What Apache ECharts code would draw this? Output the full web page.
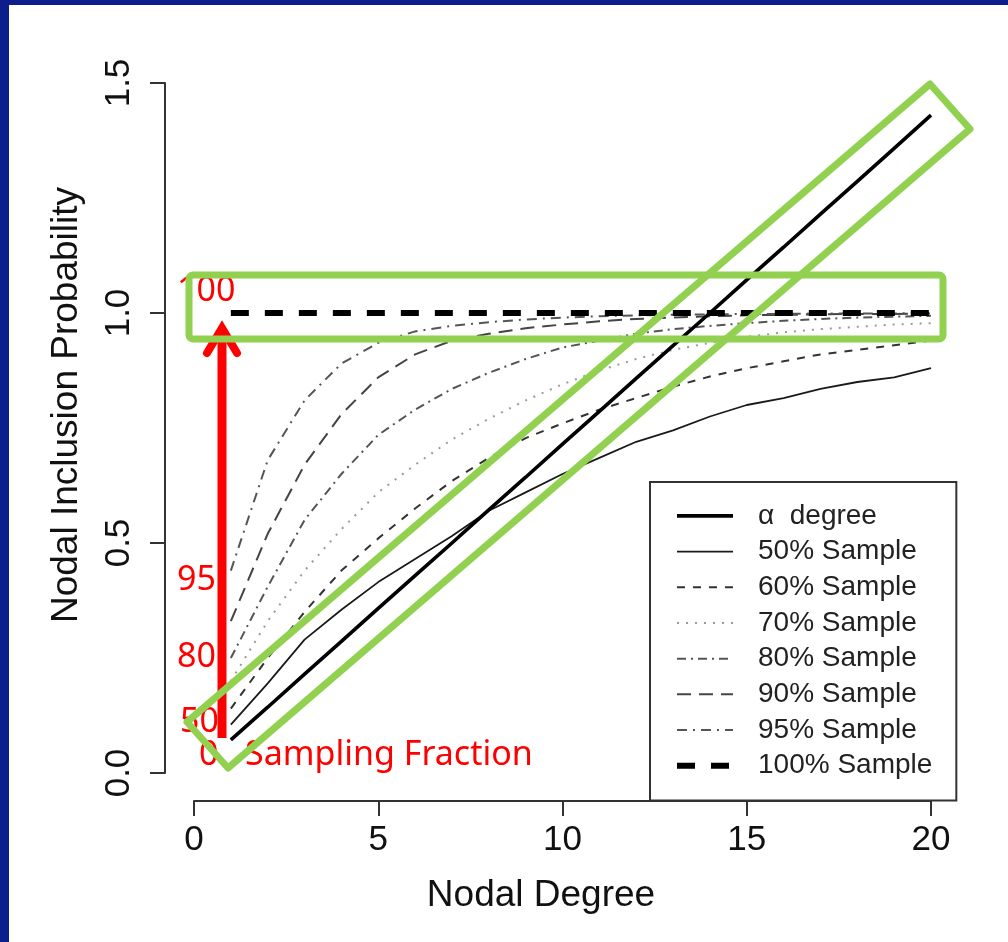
<!DOCTYPE html>
<html>
<head>
<meta charset="utf-8">
<script src="https://cdn.jsdelivr.net/npm/echarts@6/dist/echarts.min.js"></script>
<style>
  html, body { margin: 0; padding: 0; background: #0b1e8c; }
  #paper { position: absolute; left: 9px; top: 5px; width: 999px; height: 937px; background: #fff; }
  #main { position: absolute; left: 0; top: 0; width: 1008px; height: 942px; }
</style>
</head>
<body>
<div id="paper"></div>
<div id="main"></div>
<script>
// nodal degree (x)
var degree = [1, 2, 3, 4, 5, 6, 7, 8, 9, 10, 11, 12, 13, 14, 15, 16, 17, 18, 19, 20];

// inclusion probability
var alphaDegree = [0.072, 0.143, 0.215, 0.286, 0.358, 0.429, 0.50, 0.572, 0.643, 0.715, 0.786, 0.858, 0.929, 1.00, 1.072, 1.143, 1.215, 1.286, 1.358, 1.43];
var sample50  = [0.105, 0.195, 0.29, 0.355, 0.415, 0.465, 0.515, 0.57, 0.61, 0.65, 0.685, 0.72, 0.745, 0.775, 0.80, 0.815, 0.835, 0.85, 0.86, 0.88];
var sample60  = [0.14, 0.25, 0.35, 0.44, 0.51, 0.575, 0.635, 0.685, 0.728, 0.76, 0.79, 0.815, 0.84, 0.862, 0.88, 0.895, 0.91, 0.92, 0.93, 0.94];
var sample70  = [0.20, 0.33, 0.44, 0.53, 0.61, 0.67, 0.725, 0.77, 0.81, 0.845, 0.875, 0.90, 0.92, 0.935, 0.948, 0.958, 0.965, 0.97, 0.975, 0.978];
var sample80  = [0.25, 0.405, 0.55, 0.65, 0.735, 0.79, 0.835, 0.87, 0.90, 0.925, 0.94, 0.955, 0.965, 0.972, 0.978, 0.983, 0.987, 0.99, 0.992, 0.994];
var sample90  = [0.33, 0.52, 0.67, 0.78, 0.86, 0.91, 0.94, 0.955, 0.967, 0.975, 0.982, 0.987, 0.99, 0.993, 0.995, 0.996, 0.997, 0.998, 0.998, 0.999];
var sample95  = [0.44, 0.68, 0.81, 0.89, 0.935, 0.96, 0.972, 0.98, 0.986, 0.99, 0.993, 0.995, 0.996, 0.997, 0.998, 0.998, 0.999, 0.999, 0.999, 1.0];
var sample100 = [1, 1, 1, 1, 1, 1, 1, 1, 1, 1, 1, 1, 1, 1, 1, 1, 1, 1, 1, 1];

var xTicks = [0, 5, 10, 15, 20];
var yTicks = [0, 0.5, 1.0, 1.5];

function pairs(vals) {
  var out = [];
  for (var i = 0; i < degree.length; i++) out.push([degree[i], vals[i]]);
  return out;
}

function mkLine(name, vals, color, width, dash) {
  return {
    name: name,
    type: 'line',
    data: pairs(vals),
    symbol: 'none',
    lineStyle: { color: color, width: width, type: dash, cap: 'butt' },
    itemStyle: { color: color },
    z: 3
  };
}

var font = 'Liberation Sans, Arial, sans-serif';
var redFont = 'Noto Sans, sans-serif';
var green = '#92d050';
var red = '#ff0000';

function redText(txt, x, y) {
  return {
    type: 'text', z: 90,
    style: { text: txt, x: x, y: y, fill: red, font: '34px ' + redFont, textVerticalAlign: 'middle' }
  };
}

var option = {
  animation: false,
  backgroundColor: 'transparent',
  grid: { left: 194, right: 77, top: 83, bottom: 169 },
  xAxis: {
    type: 'value', min: xTicks[0], max: xTicks[xTicks.length - 1], interval: 5,
    offset: 28,
    axisLine: { onZero: false, lineStyle: { color: '#333', width: 2 } },
    axisTick: { length: 15, lineStyle: { color: '#333', width: 2 } },
    axisLabel: { margin: 22, fontSize: 35, color: '#111', fontFamily: font },
    splitLine: { show: false },
    name: 'Nodal Degree', nameLocation: 'middle', nameGap: 76,
    nameTextStyle: { fontSize: 37, color: '#111', fontFamily: font, padding: [0, 43, 0, 0] }
  },
  yAxis: {
    type: 'value', min: yTicks[0], max: yTicks[yTicks.length - 1], interval: 0.5,
    offset: 29,
    axisLine: { show: true, onZero: false, lineStyle: { color: '#333', width: 2 } },
    axisTick: { show: true, length: 15, lineStyle: { color: '#333', width: 2 } },
    axisLabel: { margin: 28, rotate: 90, fontSize: 35, color: '#111', fontFamily: font,
      formatter: function (v) { return v.toFixed(1); } },
    splitLine: { show: false },
    name: 'Nodal Inclusion Probability', nameLocation: 'middle', nameGap: 80,
    nameTextStyle: { fontSize: 37, color: '#111', fontFamily: font, padding: [0, 0, 0, 46] }
  },
  legend: {
    orient: 'vertical', left: 650, top: 482,
    padding: [16, 24, 17, 24],
    borderColor: '#333', borderWidth: 2,
    backgroundColor: '#fff',
    itemWidth: 56, itemHeight: 14, itemGap: 0,
    selectedMode: false,
    itemStyle: { opacity: 0 },
    lineStyle: { width: 'inherit' },
    textStyle: { fontSize: 28, color: '#222', fontFamily: font, lineHeight: 35.7, padding: [0, 0, 0, 20] },
    data: ['\u03b1  degree', '50% Sample', '60% Sample', '70% Sample', '80% Sample', '90% Sample', '95% Sample', '100% Sample']
  },
  series: [
    mkLine('50% Sample', sample50, '#1a1a1a', 1.8, 'solid'),
    mkLine('60% Sample', sample60, '#333', 2, [8, 8]),
    mkLine('70% Sample', sample70, '#9a9a9a', 2, [2, 7]),
    mkLine('80% Sample', sample80, '#555', 2, [9, 5, 2, 5]),
    mkLine('90% Sample', sample90, '#444', 2, [14, 8]),
    mkLine('95% Sample', sample95, '#555', 2, [10, 6, 2, 6]),
    mkLine('100% Sample', sample100, '#000', 6, [18, 16]),
    mkLine('\u03b1  degree', alphaDegree, '#000', 3.6, 'solid')
  ],
  graphic: [
    redText('100', 177, 291),
    redText('95', 177, 580),
    redText('80', 177, 657),
    redText('50', 180, 722),
    redText('0', 199, 755),
    redText('Sampling Fraction', 245, 755),
    { type: 'line', z: 91, shape: { x1: 222, y1: 738, x2: 222, y2: 332 },
      style: { stroke: red, lineWidth: 9 } },
    { type: 'polyline', z: 91, shape: { points: [[207, 353], [222, 328], [237, 353]] },
      style: { stroke: red, lineWidth: 8, lineCap: 'round', lineJoin: 'miter', fill: null } },
    { type: 'rect', z: 95, shape: { x: 189, y: 275, width: 754, height: 64, r: 4 },
      style: { stroke: green, lineWidth: 7, fill: null } },
    { type: 'polygon', z: 95, shape: { points: [[187, 722], [930, 84], [970, 129], [228, 768]] },
      style: { stroke: green, lineWidth: 7, lineJoin: 'round', fill: null } }
  ]
};

var myChart = echarts.init(document.getElementById('main'));
myChart.setOption(option);
</script>
</body>
</html>
